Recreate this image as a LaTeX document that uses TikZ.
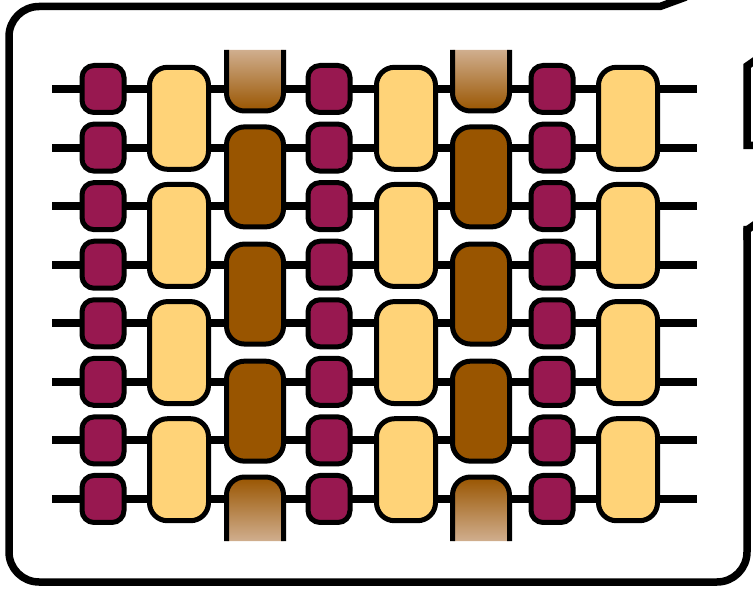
\documentclass[tikz,border=0pt]{standalone}
\definecolor{magen}{RGB}{152,24,80}
\definecolor{ylw}{RGB}{255,211,120}
\definecolor{brn}{RGB}{153,85,0}
\definecolor{lighttan}{RGB}{208,174,142}
\begin{document}
\begin{tikzpicture}[x=1pt,y=-1pt,
  wire/.style={line width=8pt},
  frame/.style={line width=7.5pt,line join=miter},
  qbit/.style={draw,line width=5pt,fill=magen,rounded corners=12pt,minimum width=42pt,minimum height=47pt,inner sep=0pt,outer sep=0pt},
  ygate/.style={draw,line width=5pt,fill=ylw,rounded corners=18pt,minimum width=59pt,minimum height=102pt,inner sep=0pt,outer sep=0pt},
  bgate/.style={draw,line width=5pt,fill=brn,rounded corners=18pt,minimum width=57pt,minimum height=100pt,inner sep=0pt,outer sep=0pt},
  halfgate/.style={line width=5pt,rounded corners=18pt}
]
\useasboundingbox (0,0) rectangle (753,591);
% frame
\draw[frame] (686,-3) -- (660,6.5) [rounded corners=30pt] -- (9,6.5) -- (9,582) -- (747,582) -- (747,226);
\draw[frame] (747,240) -- (747,230) -- (757,223);
\draw[frame] (757,59) -- (747,66) -- (747,145.5) -- (757,145.5);
% wires
\foreach \i in {1,...,8}{
  \pgfmathsetmacro\wy{89+58.57*(\i-1)}
  \coordinate (wl\i) at (52,\wy);
  \coordinate (wr\i) at (697,\wy);
  \draw[wire] (wl\i) -- (wr\i);
}
% magenta single gates
\foreach \c/\x in {1/103,2/329,3/552}{
  \foreach \i in {1,...,8}{
    \pgfmathsetmacro\wy{89+58.57*(\i-1)}
    \node[qbit] (m\c-\i) at (\x,\wy) {};
  }
}
% yellow two-qubit gates
\foreach \c/\x in {1/179,2/406,3/628}{
  \foreach \j in {1,...,4}{
    \pgfmathsetmacro\gy{118.3+117.14*(\j-1)}
    \node[ygate] (y\c-\j) at (\x,\gy) {};
  }
}
% brown two-qubit gates
\foreach \c/\x in {1/255,2/481}{
  \foreach \j in {1,...,3}{
    \pgfmathsetmacro\gy{176.9+117.14*(\j-1)}
    \node[bgate] (b\c-\j) at (\x,\gy) {};
  }
  % cut gates at top and bottom
  \shade[halfgate,top color=lighttan,bottom color=brn] (\x-28.5,50) -- (\x-28.5,111) -- (\x+28.5,111) -- (\x+28.5,50);
  \draw[halfgate] (\x-28.5,50) -- (\x-28.5,111) -- (\x+28.5,111) -- (\x+28.5,50);
  \shade[halfgate,top color=brn,bottom color=lighttan] (\x-28.5,541) -- (\x-28.5,477) -- (\x+28.5,477) -- (\x+28.5,541);
  \draw[halfgate] (\x-28.5,541) -- (\x-28.5,477) -- (\x+28.5,477) -- (\x+28.5,541);
}
\end{tikzpicture}
\end{document}
